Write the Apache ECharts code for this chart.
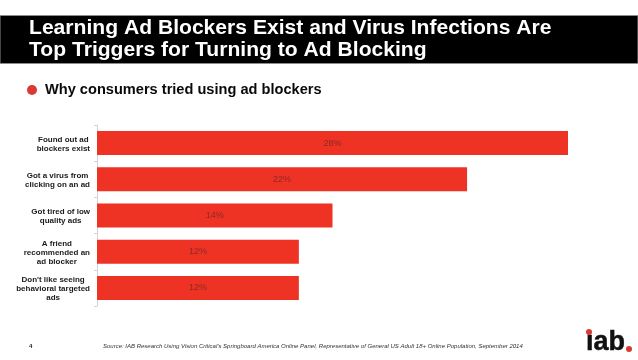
<!DOCTYPE html>
<html><head><meta charset="utf-8">
<style>html,body{margin:0;padding:0;background:#fff}#c{width:638px;height:360px}</style>
<script src="https://cdn.jsdelivr.net/npm/echarts@6/dist/echarts.min.js"></script>
</head><body><div id="c"></div>
<script>
const categories = ["Found out ad\nblockers exist","Got a virus from\nclicking on an ad","Got tired of low\nquality ads","A friend\nrecommended an\nad blocker","Don't like seeing\nbehavioral targeted\nads"];
const values = [28,22,14,12,12];
const titleText = "Learning Ad Blockers Exist and Virus Infections Are\nTop Triggers for Turning to Ad Blocking";
const subtitleText = "Why consumers tried using ad blockers";
const sourceText = "Source: IAB Research Using Vision Critical's Springboard America Online Panel, Representative of General US Adult 18+ Online Population, September 2014";
const pageNumber = "4";
const F = "'Liberation Sans', Arial, sans-serif";
const chart = echarts.init(document.getElementById('c'), null, {renderer:'canvas'});
chart.setOption({
  animation:false,
  backgroundColor:'#fff',
  title:{text:titleText,left:24,top:12,textStyle:{color:'#fff',fontFamily:F,fontWeight:'bold',fontSize:21.1,lineHeight:22}},
  grid:{left:97,top:125,width:471,height:181,containLabel:false},
  xAxis:{type:'value',min:0,max:28,show:false},
  yAxis:{type:'category',inverse:true,data:categories,
    axisLine:{show:true,lineStyle:{color:'#d4d4d4',width:1}},
    axisTick:{show:true,length:3,lineStyle:{color:'#d4d4d4'}},
    axisLabel:{margin:7,color:'#1a1a1a',padding:[2,0,0,0],
      formatter:v=>v.split('\n').map(l=>'{a|'+l+'}').join('\n'),
      rich:{a:{align:'center',fontFamily:F,fontWeight:'bold',fontSize:8,lineHeight:9,color:'#1a1a1a'}}}},
  series:[{type:'bar',data:values,barWidth:24,itemStyle:{color:'#EE3224'},
    label:{show:true,position:'inside',formatter:'{c}%',color:'#8a2b26',fontFamily:F,fontSize:9}}],
  graphic:[
    {type:'rect',z:0,shape:{x:0,y:15.5,width:638,height:48},style:{fill:'#000',stroke:'#8c8c8c',lineWidth:1}},
    {type:'circle',shape:{cx:32,cy:90,r:5},style:{fill:'#D93A32'}},
    {type:'text',x:45,y:90,style:{text:subtitleText,fill:'#0a0a0a',font:"bold 14.6px "+F,textVerticalAlign:'middle'}},
    {type:'text',x:29,y:346,style:{text:pageNumber,fill:'#222',font:"bold 6px "+F,textVerticalAlign:'middle'}},
    {type:'text',x:103,y:346,style:{text:sourceText,fill:'#333',font:"italic 6px "+F,textVerticalAlign:'middle'}},
    {type:'text',x:586,y:342.5,style:{text:"\u0131ab",fill:'#111',stroke:'#111',lineWidth:0.5,font:"bold 27px "+F,textVerticalAlign:'middle'}},
    {type:'circle',shape:{cx:589,cy:332,r:3},style:{fill:'#D93A32'}},
    {type:'circle',shape:{cx:629,cy:349,r:3},style:{fill:'#D93A32'}}
  ]
});
</script></body></html>
